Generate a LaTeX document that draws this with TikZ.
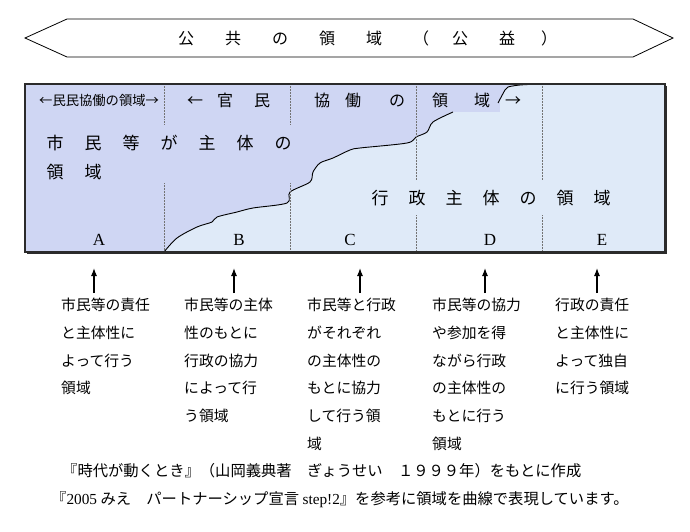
\documentclass[tikz,border=0pt]{standalone}
\usepackage{fontspec}
\setmainfont{Liberation Serif}
\newfontfamily\jp{Noto Sans CJK JP}
\usetikzlibrary{arrows.meta}
\definecolor{kyodo}{HTML}{CFD6F3}
\definecolor{gyosei}{HTML}{DFEAF8}
\definecolor{frame}{HTML}{2B2B2B}

\begin{document}
\begin{tikzpicture}[x=1pt,y=-1pt,
  row/.style={inner sep=0pt,anchor=west,font=\jp\fontsize{17}{17}\selectfont},
  col/.style={inner sep=0pt,font=\fontsize{17}{17}\selectfont},
  desc/.style={inner sep=0pt,anchor=north west,align=left,font=\jp\fontsize{14.8}{27.7}\selectfont},
  note/.style={inner sep=0pt,anchor=west,font=\jp\fontsize{15.3}{15.3}\selectfont},
  sep/.style={densely dotted,black!55,line width=0.5pt},
  curve/.style={black,line width=0.9pt},
  arr/.style={-{Latex[length=8pt,width=6pt]},line width=1.1pt}]
\useasboundingbox (0,0) rectangle (690,532);

% title band
\draw[line width=0.8pt] (25,38) -- (67,19) -- (633,19) -- (673,38) -- (633,57) -- (67,57) -- cycle;
\node[row,font=\jp\fontsize{16}{16}\selectfont] (title) at (178,38)
  {公\hspace{31pt}共\hspace{31pt}の\hspace{31pt}領\hspace{31pt}域\hspace{31pt}（\hspace{23pt}公\hspace{31pt}益\hspace{26pt}）};

% areas
\fill[gyosei] (25,84) rectangle (665,252);
\fill[kyodo] plot[smooth] coordinates {(164,252) (177,238) (197,227) (212,222) (217,217) (237,212) (253,208) (287,203) (290,192) (310,182) (313,172) (320,163) (333,158) (350,150) (360,148) (407,143) (416,137) (427,132) (433,122) (453,112) (476,107) (498,102) (505,90) (508,87) (520,84)} -- (25,84) -- (25,252) -- cycle;
\fill[kyodo] (433,86) rectangle (500,112);
\draw[curve] plot[smooth] coordinates {(164,252) (177,238) (197,227) (212,222) (217,217) (237,212) (253,208) (287,203) (290,192) (310,182) (313,172) (320,163) (333,158) (350,150) (360,148) (407,143) (416,137) (427,132) (433,122) (453,112)};
\draw[curve] plot[smooth] coordinates {(498,103) (505,90) (508,87) (520,85) (540,84)};

% column borders
\draw[sep] (164,86) -- (164,125) (164,183) -- (164,250);
\draw[sep] (290,86) -- (290,125) (290,183) -- (290,250);
\draw[sep] (416,86) -- (416,180) (416,215) -- (416,250);
\draw[sep] (542,86) -- (542,180) (542,215) -- (542,250);
\draw[frame,line width=1.2pt] (25,84) rectangle (665,252);
\draw[frame,line width=1.2pt] (666,86) -- (666,253) -- (27,253);

% texts in the areas
\node[row,font=\jp\fontsize{13.3}{13.3}\selectfont] (kyodoS) at (39,100) {←民民協働の領域→};
\node[row,font=\jp\fontsize{16}{16}\selectfont] (kyodoL) at (187,100)
  {←\hspace{14pt}官\hspace{21pt}民\hspace{44pt}協\hspace{15pt}働\hspace{28pt}の\hspace{27pt}領\hspace{26pt}域\hspace{15pt}→};
\node[row] (shimin1) at (46.5,143) {市\hspace{21pt}民\hspace{21pt}等\hspace{21pt}が\hspace{21pt}主\hspace{21pt}体\hspace{21pt}の};
\node[row] (shimin2) at (46.5,172) {領\hspace{21pt}域};
\node[row] (gyo) at (371.5,198) {行\hspace{20pt}政\hspace{20pt}主\hspace{20pt}体\hspace{20pt}の\hspace{20pt}領\hspace{20pt}域};

\node[col] (cA) at (99,240) {A};
\node[col] (cB) at (239,240) {B};
\node[col] (cC) at (350,240) {C};
\node[col] (cD) at (490,240) {D};
\node[col] (cE) at (602,240) {E};

% explanations
\node[desc] (dA) at (61,298) {市民等の責任\\と主体性に\\よって行う\\領域};
\node[desc] (dB) at (184,298) {市民等の主体\\性のもとに\\行政の協力\\によって行\\う領域};
\node[desc] (dC) at (307,298) {市民等と行政\\がそれぞれ\\の主体性の\\もとに協力\\して行う領\\域};
\node[desc] (dD) at (432,298) {市民等の協力\\や参加を得\\ながら行政\\の主体性の\\もとに行う\\領域};
\node[desc] (dE) at (555,298) {行政の責任\\と主体性に\\よって独自\\に行う領域};

\coordinate (tA) at (94,268); \coordinate (bA) at (94,293);
\coordinate (tB) at (234,268); \coordinate (bB) at (234,293);
\coordinate (tC) at (360,268); \coordinate (bC) at (360,293);
\coordinate (tD) at (485,268); \coordinate (bD) at (485,293);
\coordinate (tE) at (597,268); \coordinate (bE) at (597,293);
\draw[arr] (bA) -- (tA); \draw[arr] (bB) -- (tB); \draw[arr] (bC) -- (tC);
\draw[arr] (bD) -- (tD); \draw[arr] (bE) -- (tE);

% sources
\node[note] (src1) at (62,471) {『時代が動くとき』（山岡義典著　ぎょうせい　１９９９年）をもとに作成};
\node[note] (src2) at (51,500) {『{\rmfamily 2005} みえ　パートナーシップ宣言 {\rmfamily step!2}』を参考に領域を曲線で表現しています。};
\end{tikzpicture}
\end{document}
